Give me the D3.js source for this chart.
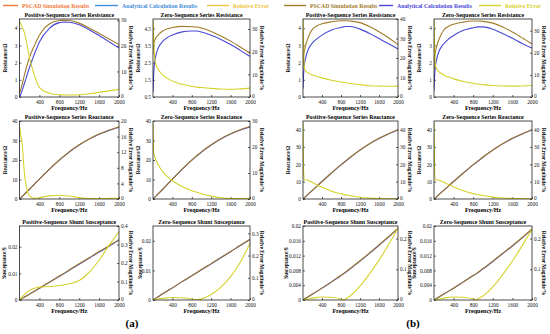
<!DOCTYPE html>
<html>
<head>
<meta charset="utf-8">
<script src="https://cdn.jsdelivr.net/npm/d3@7"></script>
<style>
  body { margin: 0; background: #fff; }
  svg text { font-family: 'Liberation Serif', 'DejaVu Serif', serif; }
</style>
</head>
<body>
<svg id="chart" width="550" height="334"></svg>
<script>
// frequency grid (Hz)
const freq = [0, 10, 25, 50, 100, 200, 300, 400, 600, 800, 850, 900, 1000, 1200, 1400, 1600, 1800, 2000]
const xTicks = [400, 800, 1200, 1600, 2000]

// (a) results
const aPosR_pscad = [0.2, 0.3, 0.45, 0.7, 1.3, 2.3, 3.0, 3.6, 4.25, 4.45, 4.46, 4.46, 4.45, 4.3, 4.02, 3.7, 3.38, 3.05]
const aPosR_calc = [0, 0.05, 0.15, 0.35, 0.8, 1.7, 2.5, 3.2, 4.0, 4.33, 4.35, 4.36, 4.35, 4.2, 3.92, 3.58, 3.22, 2.85]
const aPosR_err = [29.5, 29.3, 28.8, 27.5, 25, 15.5, 8.5, 3.8, 1.5, 0.9, 0.85, 0.8, 0.8, 0.9, 1.3, 1.8, 2.4, 3.0]

const aZeroR_pscad = [3.0, 3.4, 3.7, 3.9, 4.1, 4.35, 4.48, 4.55, 4.62, 4.6, 4.59, 4.58, 4.52, 4.32, 4.06, 3.76, 3.42, 3.05]
const aZeroR_calc = [0.8, 1.6, 2.3, 2.8, 3.3, 3.75, 3.98, 4.12, 4.3, 4.35, 4.35, 4.35, 4.29, 4.1, 3.86, 3.56, 3.22, 2.87]
const aZeroR_err = [34, 28, 20, 15, 12.5, 9.8, 8.2, 7, 5.6, 4.7, 4.5, 4.35, 4.2, 3.8, 3.5, 3.4, 3.6, 3.9]

const aPosX_pscad = [0, 0.25, 0.6, 1.2, 2.5, 5, 7.6, 10.2, 15.3, 20, 21.1, 22.1, 24.2, 27.8, 30.8, 33.3, 35.3, 37]
const aPosX_calc = [0, 0.25, 0.6, 1.2, 2.5, 5, 7.6, 10.2, 15.2, 19.9, 21, 22, 24.1, 27.7, 30.7, 33.2, 35.2, 36.8]
const aPosX_err = [18.5, 18, 16.5, 14.5, 6.5, 0.8, 0.15, 0.35, 0.8, 0.95, 0.9, 0.85, 0.75, 0.35, 0.1, 0.1, 0.15, 0.2]

const aZeroX_pscad = [0, 0.25, 0.6, 1.2, 2.5, 5, 7.6, 10.2, 15.3, 20, 21.1, 22.1, 24.2, 27.8, 30.9, 33.4, 35.5, 37.2]
const aZeroX_calc = [0, 0.25, 0.6, 1.2, 2.5, 5, 7.6, 10.2, 15.2, 19.9, 21, 22, 24.1, 27.7, 30.8, 33.3, 35.4, 37]
const aZeroX_err = [30, 19, 17, 15.5, 13.5, 10.5, 8.5, 7, 4.8, 3.2, 2.9, 2.6, 2, 1.1, 0.5, 0.2, 0.15, 0.3]

const aPosB_pscad = [0, 0.0001, 0.00028, 0.00056, 0.0011, 0.0022, 0.0033, 0.0044, 0.0067, 0.009, 0.0096, 0.0101, 0.0113, 0.0136, 0.0159, 0.0182, 0.0204, 0.0227]
const aPosB_calc = [0, 0.0001, 0.00028, 0.00056, 0.0011, 0.0022, 0.0033, 0.0044, 0.0067, 0.0089, 0.0095, 0.01, 0.0112, 0.0134, 0.0157, 0.018, 0.0202, 0.0225]
const aPosB_err = [0, 0.003, 0.008, 0.015, 0.03, 0.052, 0.064, 0.07, 0.073, 0.078, 0.08, 0.082, 0.088, 0.105, 0.15, 0.215, 0.295, 0.37]

const aZeroB_pscad = [0, 0.0001, 0.00026, 0.00051, 0.001, 0.0021, 0.0031, 0.0041, 0.0062, 0.0082, 0.0087, 0.0092, 0.0103, 0.0123, 0.0144, 0.0164, 0.0185, 0.0205]
const aZeroB_calc = [0, 0.0001, 0.00026, 0.00051, 0.001, 0.0021, 0.0031, 0.0041, 0.0062, 0.0082, 0.0087, 0.0092, 0.0102, 0.0122, 0.0143, 0.0163, 0.0184, 0.0204]
const aZeroB_err = [0, 0.0005, 0.0012, 0.0025, 0.0045, 0.0075, 0.0095, 0.011, 0.01, 0.004, 0.002, 0, 0.005, 0.025, 0.058, 0.105, 0.17, 0.255]

// (b) results
const bPosR_pscad = [1.8, 2.3, 2.6, 2.95, 3.4, 3.95, 4.15, 4.26, 4.38, 4.44, 4.44, 4.44, 4.42, 4.33, 4.1, 3.8, 3.45, 3.05]
const bPosR_calc = [0.5, 1.2, 1.8, 2.2, 2.7, 3.15, 3.4, 3.6, 3.9, 4.05, 4.08, 4.1, 4.1, 3.95, 3.7, 3.4, 3.1, 2.8]
const bPosR_err = [40, 30, 16, 13.5, 12.5, 11.3, 10.5, 9.8, 8.6, 7.7, 7.5, 7.3, 6.9, 6.3, 5.8, 5.6, 5.5, 5.6]

const bZeroR_pscad = [1.6, 2.2, 2.55, 2.9, 3.35, 3.9, 4.12, 4.24, 4.36, 4.42, 4.42, 4.42, 4.4, 4.3, 4.08, 3.78, 3.44, 3.08]
const bZeroR_calc = [0.4, 1.1, 1.7, 2.15, 2.65, 3.1, 3.38, 3.58, 3.88, 4.03, 4.06, 4.08, 4.08, 3.94, 3.7, 3.42, 3.12, 2.85]
const bZeroR_err = [35, 25, 15, 13, 11.5, 10, 9, 8.2, 7, 6.2, 6, 5.9, 5.6, 5.2, 5, 4.9, 5, 5.2]

const bPosX_pscad = [0, 0.25, 0.6, 1.2, 2.5, 5, 7.6, 10.1, 15, 19.8, 20.9, 22, 24.2, 28.3, 31.9, 35, 37.7, 40]
const bPosX_calc = [0, 0.25, 0.6, 1.2, 2.5, 5, 7.6, 10.1, 15, 19.7, 20.8, 21.9, 24.1, 28.2, 31.8, 34.9, 37.5, 39.8]
const bPosX_err = [44, 20, 11, 11, 10.8, 9.5, 8, 6.8, 4.5, 3, 2.7, 2.4, 1.9, 1, 0.5, 0.25, 0.15, 0.1]

const bZeroX_pscad = [0, 0.25, 0.6, 1.2, 2.5, 5, 7.6, 10.1, 15, 19.8, 20.9, 22, 24.2, 28.3, 31.9, 35, 37.7, 40]
const bZeroX_calc = [0, 0.25, 0.6, 1.2, 2.5, 5, 7.6, 10.1, 15, 19.7, 20.8, 21.9, 24.1, 28.2, 31.8, 34.9, 37.5, 39.8]
const bZeroX_err = [44, 20, 11, 11, 10.8, 9.6, 8.2, 7, 4.7, 3.1, 2.8, 2.5, 2, 1.1, 0.55, 0.3, 0.2, 0.15]

const bPosB_pscad = [0, 0.00008, 0.0002, 0.0004, 0.0008, 0.0016, 0.0024, 0.0032, 0.0049, 0.0067, 0.0071, 0.0076, 0.0086, 0.0106, 0.0127, 0.0149, 0.0171, 0.0194]
const bPosB_calc = [0, 0.00008, 0.0002, 0.0004, 0.0008, 0.0016, 0.0024, 0.0032, 0.0049, 0.0066, 0.0071, 0.0075, 0.0085, 0.0105, 0.0126, 0.0148, 0.017, 0.0193]
const bPosB_err = [0, 0.0003, 0.0008, 0.0015, 0.003, 0.006, 0.0085, 0.01, 0.009, 0.003, 0, 0.004, 0.014, 0.045, 0.085, 0.13, 0.18, 0.234]

const bZeroB_pscad = [0, 0.00008, 0.0002, 0.0004, 0.0008, 0.0016, 0.0024, 0.0032, 0.0049, 0.0066, 0.007, 0.0075, 0.0085, 0.0105, 0.0126, 0.0147, 0.0169, 0.0192]
const bZeroB_calc = [0, 0.00008, 0.0002, 0.0004, 0.0008, 0.0016, 0.0024, 0.0032, 0.0049, 0.0066, 0.007, 0.0074, 0.0084, 0.0104, 0.0125, 0.0146, 0.0168, 0.0191]
const bZeroB_err = [0, 0.0003, 0.0008, 0.0015, 0.003, 0.006, 0.0085, 0.01, 0.009, 0.003, 0, 0.004, 0.013, 0.043, 0.082, 0.127, 0.177, 0.23]

const seriesNames = ['PSCAD Simulation Results', 'Analytical Calculation Results', 'Relative Error']

const OLIVE = '#a07c2a', BLUE = '#4848d8', YELLOW = '#d6d22c'
const errLabel = 'Relative Error Magnitude/%'

// panel placement
const cols = [[19.5, 119], [153, 250], [303, 398], [434, 532]]
const rows = [[19, 97], [121, 199], [226, 300]]

const panels = [
  { c: 0, r: 0, lo: 13, title: 'Positive-Sequence Series Resistance', yl: 'Resistance/Ω', yd: [0, 4.54], yt: [0, 1, 2, 3, 4], rd: [0, 30.5], rt: [0, 10, 20, 30], s: [aPosR_pscad, aPosR_calc, aPosR_err] },
  { c: 1, r: 0, lo: 13, title: 'Zero-Sequence Series Resistance', yl: 'Resistance/Ω', yd: [0.5, 5.05], yt: [0.5, 1.5, 2.5, 3.5, 4.5], rd: [0, 34.4], rt: [0, 10, 20, 30], s: [aZeroR_pscad, aZeroR_calc, aZeroR_err] },
  { c: 0, r: 1, lo: 13, title: 'Positive-Sequence Series Reactance', yl: 'Reactance/Ω', yd: [0, 40], yt: [0, 10, 20, 30, 40], rd: [0, 20], rt: [0, 4, 8, 12, 16, 20], s: [aPosX_pscad, aPosX_calc, aPosX_err] },
  { c: 1, r: 1, lo: 13, title: 'Zero-Sequence Series Reactance', yl: 'Reactance/Ω', yd: [0, 40], yt: [0, 10, 20, 30, 40], rd: [0, 30], rt: [0, 10, 20, 30], s: [aZeroX_pscad, aZeroX_calc, aZeroX_err] },
  { c: 0, r: 2, lo: 14, title: 'Positive-Sequence Shunt Susceptance', yl: 'Susceptance/S', yd: [0, 0.0278], yt: [0, 0.01, 0.02], rd: [0, 0.4], rt: [0, 0.1, 0.2, 0.3, 0.4], s: [aPosB_pscad, aPosB_calc, aPosB_err] },
  { c: 1, r: 2, lo: 11, title: 'Zero-Sequence Shunt Susceptance', yl: 'Susceptance/S', yd: [0, 0.025], yt: [0, 0.01, 0.02], rd: [0, 0.333], rt: [0, 0.1, 0.2, 0.3], s: [aZeroB_pscad, aZeroB_calc, aZeroB_err] },
  { c: 2, r: 0, lo: 13, title: 'Positive-Sequence Series Resistance', yl: 'Resistance/Ω', yd: [0, 4.54], yt: [0, 1, 2, 3, 4], rd: [0, 40], rt: [0, 10, 20, 30, 40], s: [bPosR_pscad, bPosR_calc, bPosR_err] },
  { c: 3, r: 0, lo: 13, title: 'Zero-Sequence Series Resistance', yl: 'Resistance/Ω', yd: [0, 4.54], yt: [0, 1, 2, 3, 4], rd: [0, 35.3], rt: [0, 10, 20, 30], s: [bZeroR_pscad, bZeroR_calc, bZeroR_err] },
  { c: 2, r: 1, lo: 13, title: 'Positive-Sequence Series Reactance', yl: 'Reactance/Ω', yd: [0, 45], yt: [0, 10, 20, 30, 40], rd: [0, 45], rt: [0, 10, 20, 30, 40], s: [bPosX_pscad, bPosX_calc, bPosX_err] },
  { c: 3, r: 1, lo: 13, title: 'Zero-Sequence Series Reactance', yl: 'Reactance/Ω', yd: [0, 45], yt: [0, 10, 20, 30, 40], rd: [0, 45], rt: [0, 10, 20, 30, 40], s: [bZeroX_pscad, bZeroX_calc, bZeroX_err] },
  { c: 2, r: 2, lo: 15, title: 'Positive-Sequence Shunt Susceptance', yl: 'Susceptance/S', yd: [0, 0.02], yt: [0, 0.004, 0.008, 0.012, 0.016, 0.02], rd: [0, 0.241], rt: [0, 0.1, 0.2], s: [bPosB_pscad, bPosB_calc, bPosB_err] },
  { c: 3, r: 2, lo: 18, title: 'Zero-Sequence Shunt Susceptance', yl: 'Susceptance/S', yd: [0, 0.02], yt: [0, 0.004, 0.008, 0.012, 0.016, 0.02], rd: [0, 0.241], rt: [0, 0.1, 0.2], s: [bZeroB_pscad, bZeroB_calc, bZeroB_err] },
]

const svg = d3.select('#chart')

panels.forEach((p, i) => {
  const [x0, x1] = cols[p.c]
  const [y0, y1] = rows[p.r]
  const x = d3.scaleLinear().domain([0, 2000]).range([x0, x1])
  const y = d3.scaleLinear().domain(p.yd).range([y1, y0])
  const yr = d3.scaleLinear().domain(p.rd).range([y1, y0])

  const g = svg.append('g')

  g.append('clipPath').attr('id', 'clip' + i)
    .append('rect').attr('x', x0).attr('y', y0).attr('width', x1 - x0).attr('height', y1 - y0)

  const fmt = (v) => String(v)
  const styleAxis = (sel) => {
    sel.select('.domain').remove()
    sel.selectAll('line').attr('stroke', '#000').attr('stroke-width', 0.6)
    sel.selectAll('text').attr('font-size', 5.3).attr('fill', '#111')
  }

  g.append('g').attr('transform', `translate(0,${y1})`)
    .call(d3.axisBottom(x).tickValues(xTicks).tickFormat(fmt).tickSize(-2).tickPadding(3))
    .call(styleAxis)
  g.append('g').attr('transform', `translate(${x0},0)`)
    .call(d3.axisLeft(y).tickValues(p.yt).tickFormat(fmt).tickSize(-2).tickPadding(2))
    .call(styleAxis)
  const rAxis = g.append('g').attr('transform', `translate(${x1},0)`)
    .call(d3.axisRight(yr).tickValues(p.rt).tickFormat(fmt).tickSize(-2).tickPadding(2))
    .call(styleAxis)
  // lift the bottom "0" a little so it sits clear of the "2000" label
  rAxis.selectAll('.tick').filter((d) => d === 0).select('text').attr('dy', '0.05em')

  const lineL = d3.line().x((d, k) => x(freq[k])).y((d) => y(d)).curve(d3.curveMonotoneX)
  const lineR = d3.line().x((d, k) => x(freq[k])).y((d) => yr(d)).curve(d3.curveMonotoneX)

  const plot = g.append('g').attr('clip-path', `url(#clip${i})`)
  plot.append('path').attr('d', lineL(p.s[1])).attr('fill', 'none').attr('stroke', BLUE).attr('stroke-width', 1.1)
  plot.append('path').attr('d', lineL(p.s[0])).attr('fill', 'none').attr('stroke', OLIVE).attr('stroke-width', 1.1)
  plot.append('path').attr('d', lineR(p.s[2])).attr('fill', 'none').attr('stroke', YELLOW).attr('stroke-width', 1.1)

  g.append('rect').attr('x', x0).attr('y', y0).attr('width', x1 - x0).attr('height', y1 - y0)
    .attr('fill', 'none').attr('stroke', '#000').attr('stroke-width', 0.7)

  g.append('text').attr('x', (x0 + x1) / 2).attr('y', y0 - 2).attr('text-anchor', 'middle')
    .attr('font-size', 5.9).attr('font-weight', 'bold').text(p.title)
  g.append('text').attr('x', (x0 + x1) / 2).attr('y', y1 + 12.5).attr('text-anchor', 'middle')
    .attr('font-size', 6).attr('font-weight', 'bold').text('Frequency/Hz')
  g.append('text').attr('transform', `translate(${x0 - p.lo},${(y0 + y1) / 2}) rotate(-90)`)
    .attr('text-anchor', 'middle').attr('font-size', 5.2).attr('font-weight', 'bold').text(p.yl)
  g.append('text').attr('transform', `translate(${x1 + 10},${(y0 + y1) / 2}) rotate(90)`)
    .attr('text-anchor', 'middle').attr('font-size', 5.2).attr('font-weight', 'bold').text(errLabel)
})

// legends
const legends = [
  { colors: ['#f27a3c', '#3f8ed8', '#f2c33e'], items: [[3, 22], [95, 122], [207, 233]] },
  { colors: [OLIVE, BLUE, YELLOW], items: [[284, 310], [379, 397], [479, 505]] },
]
legends.forEach((lg) => {
  seriesNames.forEach((name, k) => {
    const [lx, tx] = lg.items[k]
    svg.append('line').attr('x1', lx).attr('x2', tx - 4).attr('y1', 5.5).attr('y2', 5.5)
      .attr('stroke', lg.colors[k]).attr('stroke-width', 1.4)
    svg.append('text').attr('x', tx).attr('y', 7.5).attr('font-size', 5.8).attr('font-weight', 'bold')
      .attr('fill', lg.colors[k]).text(name)
  })
})

svg.append('text').attr('x', 132).attr('y', 327).attr('text-anchor', 'middle')
  .attr('font-size', 11).attr('font-weight', 'bold').text('(a)')
svg.append('text').attr('x', 413).attr('y', 327).attr('text-anchor', 'middle')
  .attr('font-size', 11).attr('font-weight', 'bold').text('(b)')
</script>
</body>
</html>
